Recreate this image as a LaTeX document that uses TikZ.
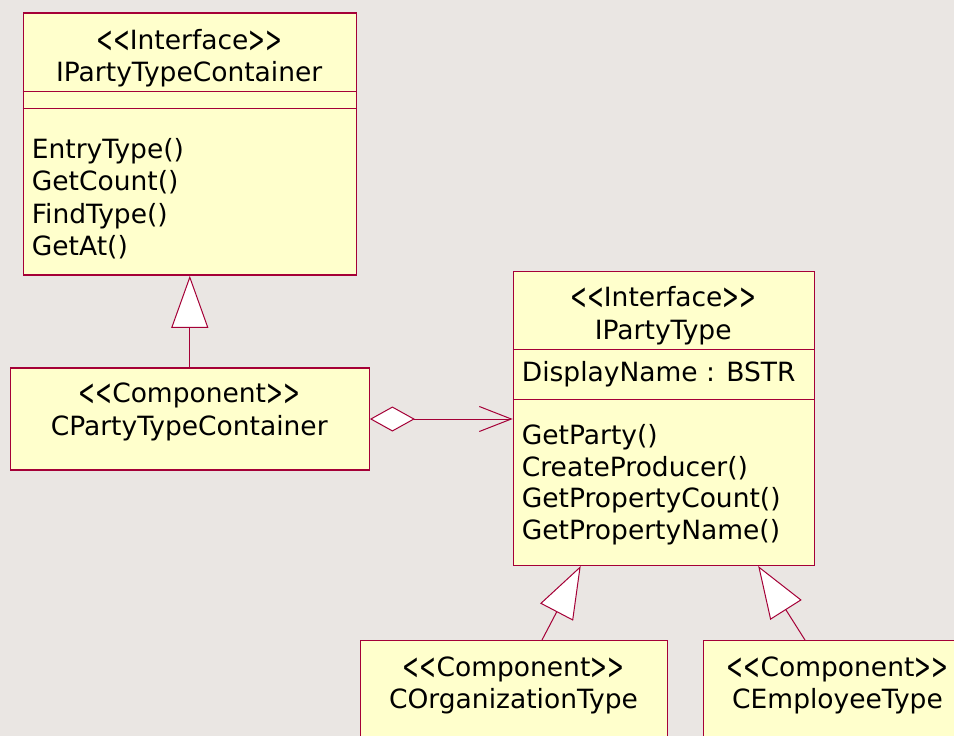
\documentclass[tikz,border=0pt]{standalone}
\usepackage{fontspec}
\usepackage{graphicx}
\setmainfont{DejaVu Sans}
\usetikzlibrary{arrows.meta}
\definecolor{umlback}{RGB}{234,230,227}
\definecolor{umlfill}{RGB}{255,255,204}
\definecolor{umlline}{RGB}{165,0,55}
\newcommand{\umlangle}[1]{\raisebox{-3pt}{\scalebox{0.76}[1.4]{#1}}}
\newcommand{\umlstereo}[1]{\umlangle{<}\umlangle{<}#1\umlangle{>}\umlangle{>}}
\begin{document}
\begin{tikzpicture}[x=1pt,y=-1pt]
\tikzstyle{every node}+=[inner sep=0pt,font=\fontsize{26.5}{32}\selectfont]
\tikzstyle{classbox}=[draw=umlline,fill=umlfill,line width=1.5pt,anchor=north west]
\tikzstyle{classline}=[draw=umlline,line width=1pt]
\tikzstyle{title}=[anchor=base]
\tikzstyle{member}=[anchor=base west]
\tikzstyle{realize}=[draw=umlline,line width=1pt,-{Triangle[length=52pt,width=37pt,fill=white]}]
\tikzstyle{aggr}=[draw=umlline,line width=1pt,{Diamond[length=45pt,width=25pt,fill=white]}-{Straight Barb[length=32pt,width=25pt]}]
\useasboundingbox (0,0) rectangle (954,736);
\fill [umlback] (0,0) rectangle (954,736);
\clip (0,0) rectangle (954,736);
\node [classbox,minimum width=333,minimum height=262] (ptc) at (22.7,12.3) {};
\node [classbox,minimum width=359,minimum height=102,line width=1.2pt] (cptc) at (9.7,367.4) {};
\node [classbox,minimum width=301,minimum height=294] (pt) at (512.7,270.5) {};
\node [classbox,minimum width=307,minimum height=120,line width=1.2pt] (ot) at (360,640) {};
\node [classbox,minimum width=270,minimum height=120,line width=1.2pt] (et) at (703,640) {};
\draw [classline] ([yshift=-79.4]ptc.north west) -- ([yshift=-79.4]ptc.north east);
\draw [classline] ([yshift=-96]ptc.north west) -- ([yshift=-96]ptc.north east);
\draw [classline] ([yshift=-78.8]pt.north west) -- ([yshift=-78.8]pt.north east);
\draw [classline] ([yshift=-128.8]pt.north west) -- ([yshift=-128.8]pt.north east);
\node [title] (ptc-s) at (189.2,49.5) {\umlstereo{Interface}};
\node [title] (ptc-n) at (189.2,81.5) {IPartyTypeContainer};
\node [member] (ptc-m1) at (31.7,158) {EntryType()};
\node [member] (ptc-m2) at (31.7,190.5) {GetCount()};
\node [member] (ptc-m3) at (31.7,223) {FindType()};
\node [member] (ptc-m4) at (31.7,255.5) {GetAt()};
\node [title] (cptc-s) at (189.2,402.5) {\umlstereo{Component}};
\node [title] (cptc-n) at (189.2,435.5) {CPartyTypeContainer};
\node [title] (pt-s) at (663.2,306) {\umlstereo{Interface}};
\node [title] (pt-n) at (663.2,339) {IPartyType};
\node [member] (pt-a1) at (521.7,381) {DisplayName : BSTR};
\node [member] (pt-m1) at (521.7,444.5) {GetParty()};
\node [member] (pt-m2) at (521.7,476) {CreateProducer()};
\node [member] (pt-m3) at (521.7,507.5) {GetPropertyCount()};
\node [member] (pt-m4) at (521.7,539) {GetPropertyName()};
\node [title] (ot-s) at (513.5,676) {\umlstereo{Component}};
\node [title] (ot-n) at (513.5,708) {COrganizationType};
\node [title] (et-s) at (837.5,676) {\umlstereo{Component}};
\node [title] (et-n) at (837.5,708) {CEmployeeType};
\draw [realize] (cptc.north) -- (cptc.north |- ptc.south);
\draw [aggr] (cptc.east) -- (cptc.east -| pt.west);
\draw [realize] ([xshift=182]ot.north west) -- ([xshift=68]pt.south west);
\draw [realize] ([xshift=102]et.north west) -- ([xshift=245.5]pt.south west);
\end{tikzpicture}
\end{document}
